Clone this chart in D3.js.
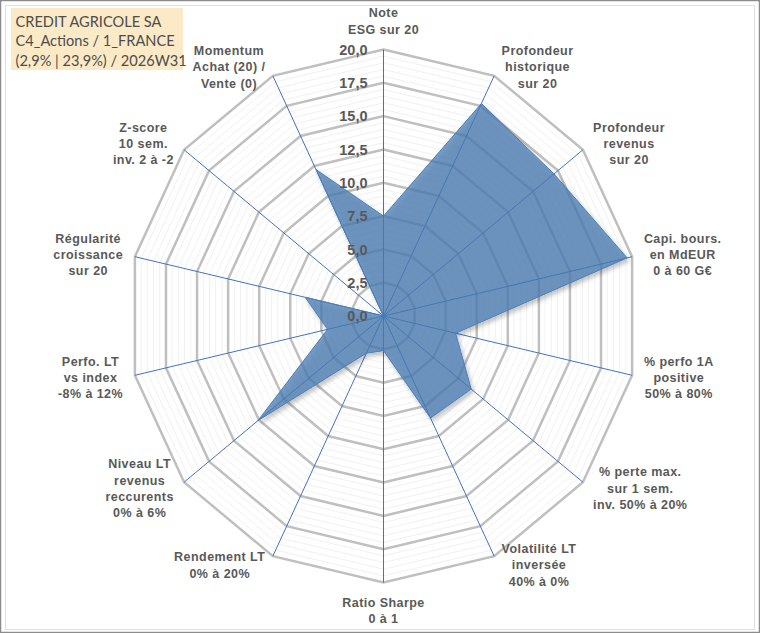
<!DOCTYPE html>
<html>
<head>
<meta charset="utf-8">
<script src="https://cdn.jsdelivr.net/npm/d3@7"></script>
<style>
  html, body { margin: 0; padding: 0; background: #fff; }
  svg { display: block; }
</style>
</head>
<body>
<div id="chart"></div>
<script>
// axis labels, clockwise from the top
var axisLabels = [
  ["Note", "ESG sur 20"],
  ["Profondeur", "historique", "sur 20"],
  ["Profondeur", "revenus", "sur 20"],
  ["Capi. bours.", "en MdEUR", "0 à 60 G€"],
  ["% perfo 1A", "positive", "50% à 80%"],
  ["% perte max.", "sur 1 sem.", "inv. 50% à 20%"],
  ["Volatilité LT", "inversée", "40% à 0%"],
  ["Ratio Sharpe", "0 à 1"],
  ["Rendement LT", "0% à 20%"],
  ["Niveau LT", "revenus", "reccurents", "0% à 6%"],
  ["Perfo. LT", "vs index", "-8% à 12%"],
  ["Régularité", "croissance", "sur 20"],
  ["Z-score", "10 sem.", "inv. 2 à -2"],
  ["Momentum", "Achat (20) /", "Vente (0)"]
];
var scores = [7.5, 17.7, 17.1, 19.6, 5.8, 8.8, 8.5, 2.6, 3.1, 12.6, 4.5, 6.3, 0, 12.2];
var tickValues = [0, 2.5, 5, 7.5, 10, 12.5, 15, 17.5, 20];
var tickLabels = ["0,0", "2,5", "5,0", "7,5", "10,0", "12,5", "15,0", "17,5", "20,0"];
var titleLines = ["CREDIT AGRICOLE SA", "C4_Actions / 1_FRANCE", "(2,9% | 23,9%) / 2026W31"];

var W = 760, H = 633;
var cx = 383.5, cy = 316, RX = 255, RY = 266.5;
var n = axisLabels.length;

var svg = d3.select("#chart").append("svg")
    .attr("width", W)
    .attr("height", H);

var defs = svg.append("defs");
var f = defs.append("filter").attr("id", "shadow")
    .attr("x", "-20%").attr("y", "-20%").attr("width", "140%").attr("height", "140%");
f.append("feDropShadow")
    .attr("dx", 2).attr("dy", 3).attr("stdDeviation", 2)
    .attr("flood-color", "#000").attr("flood-opacity", 0.3);

// frame
svg.append("rect").attr("x", 0.5).attr("y", 0.5).attr("width", W - 1).attr("height", H - 1)
    .attr("fill", "#fff").attr("stroke", "#8c8c8c").attr("stroke-width", 1.5);
svg.append("rect").attr("x", 5.5).attr("y", 5.5).attr("width", W - 11).attr("height", H - 9)
    .attr("fill", "none").attr("stroke", "#e0e0e0").attr("stroke-width", 1);

var r = d3.scaleLinear().domain([0, 20]).range([0, 1]);
var angle = d3.scaleLinear().domain([0, n]).range([0, 2 * Math.PI]);

function px(i, v) { return cx + RX * r(v) * Math.sin(angle(i)); }
function py(i, v) { return cy - RY * r(v) * Math.cos(angle(i)); }

var ring = d3.line()
    .x(function(d) { return d[0]; })
    .y(function(d) { return d[1]; })
    .curve(d3.curveLinearClosed);

function ringPoints(v) {
  return d3.range(n).map(function(i) { return [px(i, v), py(i, v)]; });
}

// minor gridlines
var minor = d3.range(0.5, 20, 0.5).filter(function(v) { return Math.abs(v / 2.5 - Math.round(v / 2.5)) > 0.01; });
svg.append("g").selectAll("path").data(minor).enter().append("path")
    .attr("d", function(v) { return ring(ringPoints(v)); })
    .attr("fill", "none").attr("stroke", "#f1f1f1").attr("stroke-width", 1);

// major gridlines
svg.append("g").selectAll("path").data(tickValues.filter(function(v) { return v > 0; })).enter().append("path")
    .attr("d", function(v) { return ring(ringPoints(v)); })
    .attr("fill", "none").attr("stroke", "#bfbfbf").attr("stroke-width", 2.5)
    .attr("stroke-linejoin", "miter");

// spokes
svg.append("g").selectAll("line").data(d3.range(n)).enter().append("line")
    .attr("x1", cx).attr("y1", cy)
    .attr("x2", function(i) { return px(i, 20); })
    .attr("y2", function(i) { return py(i, 20); })
    .attr("stroke", "#4472c4").attr("stroke-width", 1);

// series
svg.append("path")
    .datum(scores)
    .attr("d", ring(scores.map(function(v, i) { return [px(i, v), py(i, v)]; })))
    .attr("fill", "#4a7cb2").attr("fill-opacity", 0.75)
    .attr("stroke", "#4a7ebb").attr("stroke-width", 1)
    .attr("filter", "url(#shadow)");

// radial tick labels
svg.append("g").selectAll("text").data(tickValues).enter().append("text")
    .attr("x", cx - 16)
    .attr("y", function(v) { return py(0, v); })
    .attr("dy", "0.36em")
    .attr("text-anchor", "end")
    .attr("font-family", "Liberation Sans, Arial, sans-serif")
    .attr("font-weight", "bold")
    .attr("font-size", 14.5)
    .attr("fill", "#595959")
    .text(function(v, k) { return tickLabels[k]; });

// axis labels
var lh = 16.3;
var lab = svg.append("g")
    .attr("font-family", "Liberation Sans, Arial, sans-serif")
    .attr("font-weight", "bold")
    .attr("font-size", 12.5)
    .attr("letter-spacing", 0.45)
    .attr("fill", "#595959");

axisLabels.forEach(function(lines, i) {
  var a = angle(i), s = Math.sin(a), c = Math.cos(a);
  var ex = px(i, 20), ey = py(i, 20);
  var h = lines.length * lh;
  var t = lab.append("text").attr("text-anchor", "middle");
  var tx = ex, top;
  if (Math.abs(s) < 0.1) {
    top = c > 0 ? ey - 12 - h : ey + 12;
  } else {
    top = ey - 10 * c - h / 2;
  }
  lines.forEach(function(l, k) {
    t.append("tspan").attr("x", tx).attr("y", top + lh * k + lh * 0.5).attr("dy", "0.35em").text(l);
  });
  if (Math.abs(s) >= 0.1) {
    var w = t.node().getBBox().width;
    var gap = 4 + 8 * Math.abs(s);
    var nx = s > 0 ? ex + gap + w / 2 : ex - gap - w / 2;
    t.selectAll("tspan").attr("x", nx);
  }
});

// title box
svg.append("rect").attr("x", 11).attr("y", 8).attr("width", 172).attr("height", 62)
    .attr("fill", "#fce9c6");
svg.append("g").selectAll("text").data(titleLines).enter().append("text")
    .attr("x", 15.5)
    .attr("y", function(d, k) { return 21.7 + 19.5 * k; })
    .attr("dy", "0.35em")
    .attr("font-family", "Lato, Carlito, sans-serif")
    .attr("font-size", 14.6)
    .attr("fill", "#4d4d4d")
    .text(function(d) { return d; });
</script>
</body>
</html>
